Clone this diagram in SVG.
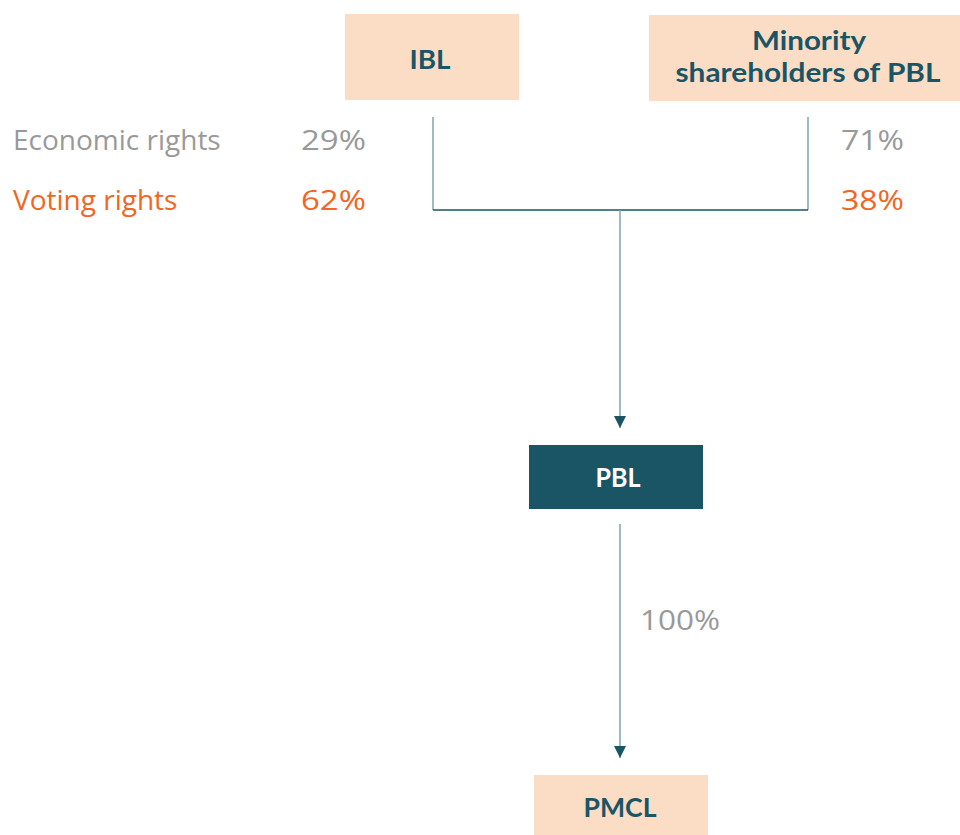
<svg xmlns="http://www.w3.org/2000/svg" width="960" height="835" viewBox="0 0 960 835">
  <defs>
    <marker id="arrow" markerWidth="14" markerHeight="14" refX="12" refY="6" orient="auto" markerUnits="userSpaceOnUse">
      <path d="M0,0 L12,6 L0,12 Z" fill="#1a5566"/>
    </marker>
    <style>
      .light { fill: #fbdcc5; }
      .dark { fill: #1a5566; }
      .title { font-family: Lato, "Open Sans", "Liberation Sans", sans-serif; font-weight: bold; font-size: 26px; text-anchor: middle; fill: #1a5566; }
      .titleW { fill: #ffffff; }
      .lbl { font-family: "Open Sans", "Liberation Sans", sans-serif; font-size: 28px; }
      .grey { fill: #999999; }
      .orange { fill: #f26522; }
      .thin { stroke: #7fa3b0; stroke-width: 1.5; fill: none; }
      .join { stroke: #1a5566; stroke-width: 1.5; fill: none; }
    </style>
  </defs>
  <rect width="960" height="835" fill="#ffffff"/>

  <g id="ibl">
    <rect class="light" x="345" y="14" width="174" height="86"/>
    <text class="title" x="430" y="69" textLength="41" lengthAdjust="spacingAndGlyphs">IBL</text>
  </g>

  <g id="minority">
    <rect class="light" x="649" y="15" width="320" height="86"/>
    <text class="title" x="809" y="50" textLength="114" lengthAdjust="spacingAndGlyphs">Minority</text>
    <text class="title" x="808" y="82" textLength="265" lengthAdjust="spacingAndGlyphs">shareholders of PBL</text>
  </g>

  <g id="pbl">
    <rect class="dark" x="529" y="445" width="174" height="64"/>
    <text class="title titleW" x="618" y="487" textLength="45" lengthAdjust="spacingAndGlyphs">PBL</text>
  </g>

  <g id="pmcl">
    <rect class="light" x="534" y="775" width="174" height="70"/>
    <text class="title" x="620" y="817" textLength="73" lengthAdjust="spacingAndGlyphs">PMCL</text>
  </g>

  <g id="legend">
    <text class="lbl grey" x="13" y="150">Economic rights</text>
    <text class="lbl orange" x="13" y="210">Voting rights</text>
    <text class="lbl grey" x="301" y="150" textLength="65" lengthAdjust="spacingAndGlyphs">29%</text>
    <text class="lbl orange" x="301" y="210" textLength="65" lengthAdjust="spacingAndGlyphs">62%</text>
    <text class="lbl grey" x="841" y="150" textLength="63" lengthAdjust="spacingAndGlyphs">71%</text>
    <text class="lbl orange" x="841" y="210" textLength="63" lengthAdjust="spacingAndGlyphs">38%</text>
    <text class="lbl grey" x="640" y="630" textLength="80" lengthAdjust="spacingAndGlyphs">100%</text>
  </g>

  <g id="connectors">
    <line class="thin" x1="433" y1="117" x2="433" y2="210"/>
    <line class="thin" x1="808" y1="117" x2="808" y2="210"/>
    <line class="join" x1="433" y1="210" x2="808" y2="210"/>
    <line class="thin" x1="620" y1="210" x2="620" y2="428" marker-end="url(#arrow)"/>
    <line class="thin" x1="620" y1="524" x2="620" y2="758" marker-end="url(#arrow)"/>
  </g>
</svg>
